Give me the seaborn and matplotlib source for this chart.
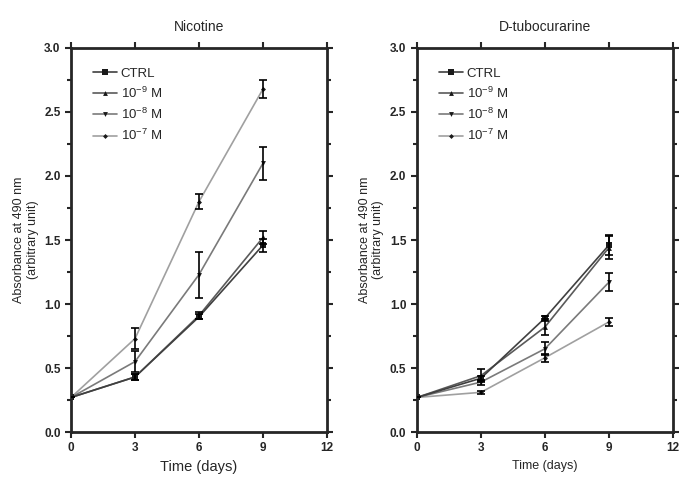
import matplotlib
matplotlib.use("Agg")
import matplotlib.pyplot as plt
import seaborn as sns
import pandas as pd
from matplotlib.ticker import MultipleLocator

days = [0, 3, 6, 9]
groups = ["CTRL", "1e-9", "1e-8", "1e-7"]
labels = ["CTRL", "10$^{-9}$ M", "10$^{-8}$ M", "10$^{-7}$ M"]

# Nicotine
nic_mean = {
    "CTRL": [0.27, 0.43, 0.90, 1.46],
    "1e-9": [0.27, 0.43, 0.91, 1.52],
    "1e-8": [0.27, 0.55, 1.23, 2.10],
    "1e-7": [0.27, 0.73, 1.80, 2.68],
}
nic_err = {
    "CTRL": [0, 0.02, 0.02, 0.05],
    "1e-9": [0, 0.02, 0.03, 0.05],
    "1e-8": [0, 0.08, 0.18, 0.13],
    "1e-7": [0, 0.08, 0.06, 0.07],
}

# D-tubocurarine
dtc_mean = {
    "CTRL": [0.27, 0.42, 0.89, 1.46],
    "1e-9": [0.27, 0.44, 0.82, 1.44],
    "1e-8": [0.27, 0.39, 0.65, 1.17],
    "1e-7": [0.27, 0.31, 0.58, 0.86],
}
dtc_err = {
    "CTRL": [0, 0.02, 0.02, 0.08],
    "1e-9": [0, 0.05, 0.06, 0.09],
    "1e-8": [0, 0.02, 0.05, 0.07],
    "1e-7": [0, 0.01, 0.03, 0.03],
}

colors = {"CTRL": "#404040", "1e-9": "#5a5a5a", "1e-8": "#7a7a7a", "1e-7": "#a0a0a0"}
markers = {"CTRL": "s", "1e-9": "^", "1e-8": "v", "1e-7": "D"}
msizes = {"CTRL": 4.5, "1e-9": 3.5, "1e-8": 3.5, "1e-7": 2.5}
mcolor = "#1a1a1a"

sns.set_style("ticks")
plt.rcParams["font.family"] = ["Liberation Sans", "DejaVu Sans"]
plt.rcParams["mathtext.default"] = "regular"

fig = plt.figure(figsize=(6.79, 4.78), dpi=100)
ax1 = fig.add_axes([0.1046, 0.0962, 0.377, 0.8034])
ax2 = fig.add_axes([0.614, 0.0962, 0.377, 0.8034])


def draw(ax, means, errs, title, xlab_size):
    rows = []
    for g in groups:
        for d, m in zip(days, means[g]):
            rows.append({"day": d, "val": m, "grp": g})
    df = pd.DataFrame(rows)
    order = groups[::-1]
    sns.lineplot(data=df, x="day", y="val", hue="grp", style="grp",
                 palette=colors, markers=markers, dashes=False,
                 hue_order=order, style_order=order,
                 lw=1.2, ax=ax, legend=False, markeredgewidth=0)
    for line, g in zip(ax.lines, order):
        line.set_markersize(msizes[g])
        line.set_markerfacecolor(mcolor)
    for g in groups:
        ax.errorbar(days, means[g], yerr=errs[g], fmt="none", ecolor="black",
                    elinewidth=1.2, capsize=3, capthick=1.2, zorder=5)
    handles = [plt.Line2D([], [], color=colors[g], marker=markers[g],
                          markersize=msizes[g], lw=1.2,
                          markerfacecolor=mcolor,
                          markeredgewidth=0) for g in groups]
    ax.legend(handles, labels, loc="upper left", bbox_to_anchor=(0.04, 0.98),
              frameon=False, fontsize=9.5, handlelength=1.8,
              handletextpad=0.3, labelspacing=0.45)
    ax.set_xlim(0, 12)
    ax.set_ylim(0, 3.0)
    ax.set_xticks([0, 3, 6, 9, 12])
    ax.yaxis.set_major_locator(MultipleLocator(0.5))
    ax.yaxis.set_minor_locator(MultipleLocator(0.25))
    ax.yaxis.set_major_formatter(matplotlib.ticker.FormatStrFormatter("%.1f"))
    ax.tick_params(which="both", direction="out", top=True, right=True,
                   width=1.5, labelsize=8.5)
    ax.tick_params(which="major", length=4)
    ax.tick_params(which="minor", length=3)
    for lbl in ax.get_xticklabels() + ax.get_yticklabels():
        lbl.set_fontweight("bold")
    for s in ax.spines.values():
        s.set_visible(True)
        s.set_linewidth(2)
    ax.set_title(title, fontsize=10, pad=12)
    ax.set_xlabel("Time (days)", fontsize=xlab_size)
    ax.set_ylabel("Absorbance at 490 nm\n(arbitrary unit)", fontsize=9, labelpad=4)


draw(ax1, nic_mean, nic_err, "Nicotine", 10.5)
draw(ax2, dtc_mean, dtc_err, "D-tubocurarine", 9)

fig.savefig("out.png", dpi=100)
